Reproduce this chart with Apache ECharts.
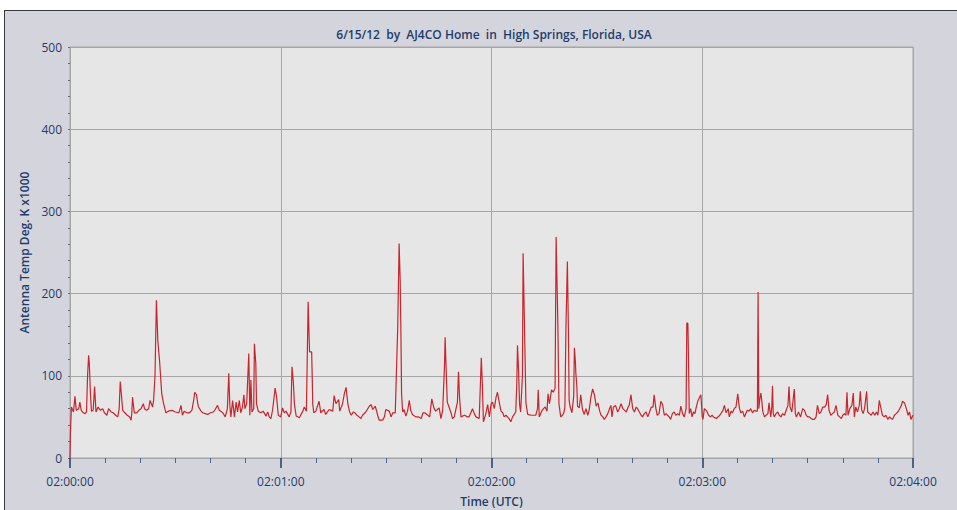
<!DOCTYPE html>
<html>
<head>
<meta charset="utf-8">
<title>Antenna Temp</title>
<script src="https://cdn.jsdelivr.net/npm/echarts@6/dist/echarts.min.js"></script>
<style>
  html, body { margin: 0; padding: 0; background: #ffffff; }
  #frame {
    position: absolute; left: 4px; top: 10px;
    width: 953px; height: 500px;
    box-sizing: border-box;
    border-left: 1px solid #3a3a3a; border-top: 1px solid #3a3a3a;
    background: #d4d4dc;
  }
  #antenna_temp_chart { width: 952px; height: 499px; }
</style>
</head>
<body>
<div id="frame"><div id="antenna_temp_chart"></div></div>
<script>
// tick labels for the time axis (one per minute)
var timeLabels = ['02:00:00', '02:01:00', '02:02:00', '02:03:00', '02:04:00'];

// [seconds after 02:00:00, antenna temp K x1000]
var minute1 = [[0,0],[0.1,28],[0.4,62],[1,56],[1.4,75],[1.8,58],[2.5,60],[2.8,68],[3.2,58],[3.8,55],[4.3,54],[4.7,56],
  [5.0,100],[5.3,125],[5.5,115],[5.8,80],[6.1,57],[6.6,58],[7.0,87],[7.4,56],[8,62],[8.7,58],[9.3,60],[9.8,55],
  [10.5,52],[11,60],[11.7,56],[12.3,55],[13,52],[13.6,50],[14.0,60],[14.3,93],[14.6,79],[15,58],[15.6,55],[16.3,52],
  [17,50],[17.4,46],[17.6,55],[17.8,74],[18.3,55],[19,55],[19.6,58],[20.2,60],[20.9,66],[21.2,60],[21.8,58],[22.4,60],
  [22.8,70],[23.5,62],[23.8,70],[24.2,100],[24.6,192],[25,143],[25.5,118],[26.1,79],[26.6,67],[27.3,55],[28,57],
  [29,58],[30,56],[31,55],[31.6,64],[32,52],[32.5,57],[33.3,55],[34,55],[34.7,58],[35.2,70],[35.5,80],[36,77],
  [36.5,63],[37.3,57],[37.8,55],[38.5,54],[39.2,53],[40,55],[40.8,56],[41.2,58],[42,64],[42.5,58],[43.5,55],[44.2,50],
  [44.8,60],[45.2,103],[45.5,64],[45.8,50],[46.3,70],[46.8,50],[47.3,68],[47.7,56],[48.2,70],[48.6,55],[49.1,62],
  [49.5,77],[49.8,60],[50.3,66],[50.9,127],[51.2,52],[51.5,95],[51.8,56],[52.3,60],[52.5,139],[52.9,115],[53.1,66],
  [53.6,57],[54.3,55],[55,57],[55.8,51],[56.3,56],[56.7,50],[57.2,48],[57.7,59],[58.4,85],[58.8,75],[59.3,52],[60,50]];

var minute2 = [[60.5,61],[61,55],[61.5,57],[62.4,50],[62.9,56],[63.2,111],[63.6,91],[63.9,65],[64.4,51],[65.3,49],
  [65.9,54],[66.3,57],[66.7,62],[67.3,57],[67.8,190],[68.2,129],[68.8,129],[69,91],[69.1,66],[69.4,55],[70,57],
  [70.9,69],[71.4,55],[72.3,59],[72.8,53],[73.8,59],[74.8,57],[75.2,76],[75.7,66],[76.5,71],[76.8,57],[77.6,66],
  [78.1,78],[78.6,86],[79.1,66],[79.6,56],[80.1,52],[80.6,56],[81.1,55],[81.7,52],[82.3,50],[82.8,48],[83.3,52],
  [84.2,56],[85.2,63],[85.7,65],[86.2,59],[86.9,63],[87.6,52],[88,46],[89,46],[89.5,50],[89.9,59],[90.9,57],[91.4,50],
  [91.9,55],[92.6,55],[93.3,158],[93.7,261],[94,216],[94.2,155],[94.4,78],[94.7,56],[95.1,59],[95.6,51],[96.1,57],
  [96.6,70],[97,58],[97.5,53],[98.4,50],[99.3,50],[100,48],[100.5,55],[101,55],[101.9,52],[102.4,50],[103,72],
  [103.6,61],[104.1,57],[104.6,59],[105.1,61],[105.6,48],[106.1,58],[106.6,110],[106.8,147],[107.1,106],[107.4,68],
  [107.9,62],[108.4,56],[108.9,48],[109.4,50],[109.9,60],[110.3,68],[110.6,105],[110.9,74],[111.3,50],[112.3,52],
  [113.2,50],[113.6,50],[114.6,60],[115.1,54],[115.6,50],[116.5,48],[117.1,122],[117.4,89],[117.7,44],[118.4,54],
  [118.9,65],[119.4,50],[119.9,66],[120.3,68]];

var minute3 = [[120.8,60],[121.3,74],[121.7,80],[122.2,68],[122.7,57],[123.2,55],[123.6,50],[124.1,52],[125,48],
  [125.5,44],[126,50],[126.9,56],[127.2,90],[127.4,137],[127.7,107],[128,65],[128.3,56],[128.8,100],[129,249],
  [129.2,249],[129.4,158],[129.8,67],[130.3,53],[131.3,52],[132.6,52],[133.1,60],[133.3,83],[133.6,50],[134.3,57],
  [134.8,60],[135.3,62],[135.8,57],[136.1,78],[136.5,66],[137.1,83],[137.6,80],[138.1,85],[138.4,269],[138.6,269],
  [138.9,161],[139.2,66],[139.7,50],[140.2,52],[140.6,55],[140.9,62],[141.2,160],[141.6,239],[141.9,154],[142.1,70],
  [142.4,62],[142.9,55],[143.4,75],[143.6,134],[143.9,116],[144,104],[144.3,87],[144.5,63],[145,61],[145.4,77],
  [145.9,59],[146.4,53],[146.9,60],[147.4,52],[147.8,58],[148.3,74],[148.8,84],[149.3,77],[149.8,63],[150.3,67],
  [150.8,57],[151.2,52],[151.7,50],[152.1,47],[152.6,50],[153.1,54],[153.6,60],[154,64],[154.3,50],[154.7,62],
  [155.3,64],[155.9,56],[156.4,60],[156.9,66],[157.4,60],[157.9,58],[158.4,56],[158.9,62],[159.2,64],[159.7,77],
  [160.2,60],[160.7,56],[161.2,62],[161.6,60],[162.1,56],[162.6,52],[163,50],[163.5,54],[164,56],[164.5,50],[165,56],
  [165.5,62],[166,62],[166.3,77],[166.8,60],[167.2,52],[167.7,54],[168.2,69],[168.7,65],[169.2,52],[169.7,54],
  [170.1,52],[170.6,50],[171,47],[171.5,54],[172,56],[172.5,52],[173,54],[173.5,52],[173.9,63],[174.4,54],[174.9,50],
  [175.4,60],[175.6,164],[175.9,164],[176.1,117],[176.3,54],[176.7,60],[177.1,50],[177.5,56],[177.9,54],[178.3,62],
  [178.8,70],[179.6,77],[180,50]];

var minute4 = [[180.2,47],[180.6,60],[181.3,57],[181.8,52],[182.3,50],[182.8,52],[183.2,50],[184,48],[185,52],
  [185.9,58],[186.3,64],[186.8,55],[187.4,60],[187.7,50],[188.2,57],[188.6,55],[189.1,60],[189.6,62],[190.1,78],
  [190.6,60],[191,55],[191.5,57],[192,50],[192.8,58],[193.3,57],[193.8,60],[194.3,55],[194.8,58],[195.3,57],
  [195.7,57],[195.9,202],[196.1,60],[196.4,72],[196.7,79],[197,68],[197.2,57],[197.7,50],[198.2,52],[198.7,54],
  [199,67],[199.5,50],[199.8,62],[200,88],[200.2,54],[200.5,50],[201,54],[201.5,56],[201.9,52],[202.4,50],[202.9,54],
  [203.4,52],[203.9,58],[204.4,64],[204.7,87],[205,62],[205.5,56],[206.2,84],[206.5,54],[206.8,50],[207.4,56],[208,50],
  [208.6,60],[209.1,58],[209.6,52],[210,50],[210.5,50],[211,48],[211.4,47],[211.9,47],[212.4,50],[212.8,64],[213.3,54],
  [213.8,56],[214.3,62],[214.8,62],[215.3,65],[215.7,77],[216.1,58],[216.6,52],[217.1,54],[217.6,56],[218.1,64],
  [218.6,52],[219.1,50],[219.6,48],[220,52],[220.5,54],[220.9,52],[221.2,80],[221.5,52],[222,60],[222.6,64],[223,79],
  [223.3,50],[223.7,62],[224.2,56],[224.7,64],[225,81],[225.4,58],[225.8,54],[226.2,60],[226.8,81],[227.1,56],
  [227.6,54],[228.1,52],[228.6,56],[229.1,52],[229.6,56],[230,52],[230.4,70],[230.9,60],[231.3,52],[231.8,50],
  [232.3,52],[232.8,47],[233.3,50],[233.8,48],[234.2,47],[234.7,52],[235.2,54],[235.7,56],[236.2,60],[236.7,64],
  [237,69],[237.6,67],[238.1,60],[238.6,52],[239,56],[239.4,47],[240,52]];

var textBlue = '#1f3d6b';
var fontName = "'Open Sans', 'Liberation Sans', sans-serif";

var myChart = echarts.init(document.getElementById('antenna_temp_chart'), null, {renderer: 'svg'});
var tempData = minute1.concat(minute2, minute3, minute4);

var option = {
    animation: false,
    backgroundColor: 'transparent',
    title: {
        text: '6/15/12  by  AJ4CO Home  in  High Springs, Florida, USA',
        left: 484,
        top: 12,
        textAlign: 'center',
        textStyle: { color: textBlue, fontFamily: fontName, fontSize: 12, fontWeight: 600 }
    },
    grid: {
        left: 65, top: 36, width: 843, height: 411,
        show: true,
        backgroundColor: '#e6e6e6',
        borderColor: '#a6a6a6',
        borderWidth: 1,
        containLabel: false,
        outerBoundsMode: 'none'
    },
    xAxis: {
        type: 'value',
        min: 0, max: 240, interval: 60,
        name: 'Time (UTC)',
        nameLocation: 'middle',
        nameGap: 37,
        nameTextStyle: { color: textBlue, fontFamily: fontName, fontSize: 12, fontWeight: 600 },
        axisLine: { show: false },
        axisTick: { show: true, length: 10, lineStyle: { color: textBlue, width: 1.5 } },
        minorTick: { show: true, splitNumber: 6, length: 5, lineStyle: { color: '#4a6690', width: 1 } },
        axisLabel: {
            margin: 17, color: textBlue, fontFamily: fontName, fontSize: 12,
            showMinLabel: true, showMaxLabel: true,
            formatter: function (v) { return timeLabels[Math.round(v / 60)]; }
        },
        splitLine: { show: true, lineStyle: { color: '#a6a6a6', width: 1 } }
    },
    yAxis: {
        type: 'value',
        min: 0, max: 500, interval: 100,
        offset: 4,
        name: 'Antenna Temp Deg. K x1000',
        nameLocation: 'middle',
        nameGap: 30,
        nameRotate: 90,
        nameTextStyle: { color: textBlue, fontFamily: fontName, fontSize: 12, fontWeight: 600 },
        axisLine: { show: false },
        axisTick: { show: true, length: 2, lineStyle: { color: '#6a6a78' } },
        minorTick: { show: true, splitNumber: 5, length: 2, lineStyle: { color: '#6a6a78' } },
        axisLabel: { margin: 4, color: textBlue, fontFamily: fontName, fontSize: 12 },
        splitLine: { show: true, lineStyle: { color: '#a6a6a6', width: 1 } }
    },
    series: [
        {
            name: 'Antenna Temp',
            type: 'line',
            data: tempData,
            showSymbol: false,
            symbol: 'none',
            lineStyle: { color: '#c8252c', width: 1.2 },
            itemStyle: { color: '#c8252c' }
        }
    ]
};
myChart.setOption(option);
</script>
</body>
</html>
